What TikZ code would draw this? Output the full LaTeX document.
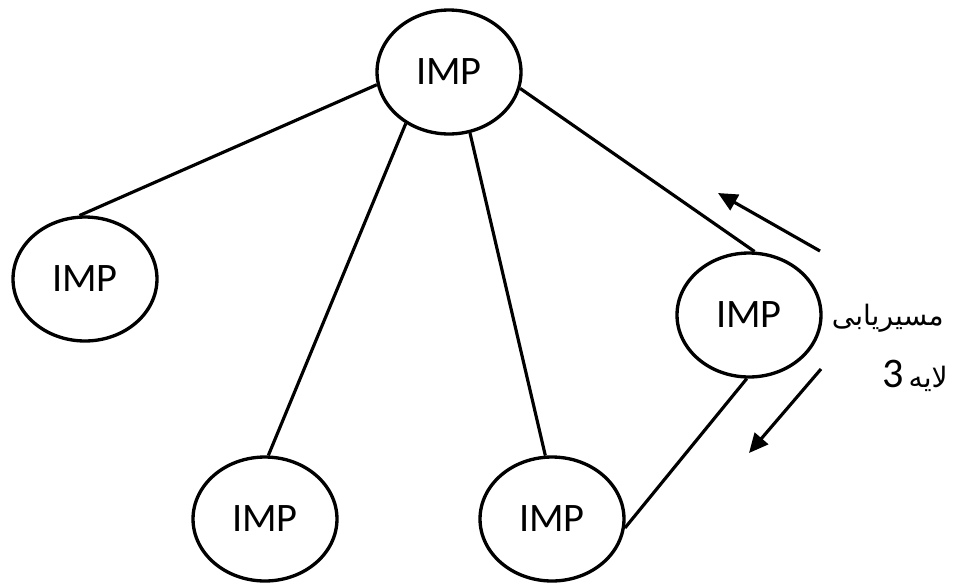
\documentclass[tikz,border=0pt]{standalone}
\usepackage{fontspec}
\setmainfont{Carlito}
\newfontfamily\arabicfont[Script=Arabic]{DejaVu Sans}
\TeXXeTstate=1
\usetikzlibrary{shapes.geometric,arrows.meta}
\begin{document}
\begin{tikzpicture}[x=0.02cm,y=-0.02cm,
  imp/.style={ellipse,draw,line width=1.9pt,minimum width=2.88cm,minimum height=2.48cm,inner sep=0pt,font=\fontsize{23}{27}\selectfont},
  link/.style={line width=1.8pt},
  flow/.style={line width=1.8pt,-{Triangle[length=11pt,width=10pt]}},
  lbl/.style={font=\arabicfont\fontsize{16}{20}\selectfont,inner sep=0pt}]
\useasboundingbox (0,0) rectangle (954,582);
\node[imp] (top) at (449,72) {IMP};
\node[imp] (left) at (85,279) {IMP};
\node[imp] (right) at (749,315) {IMP};
\node[imp] (bl) at (265,519) {IMP};
\node[imp] (bm) at (552,519) {IMP};
\draw[link] (top.190) -- (left.95);
\draw[link] (top.230) -- (bl.87);
\draw[link] (top.289) -- (bm.96);
\draw[link] (top.347) -- (right.85);
\draw[link] (right.268) -- (bm.353);
\coordinate (a1s) at (820,251);
\coordinate (a1e) at (718,193);
\coordinate (a2s) at (821,369);
\coordinate (a2e) at (749,453);
\draw[flow] (a1s) -- (a1e);
\draw[flow] (a2s) -- (a2e);
\node[lbl,anchor=east] (l1) at (944,318) {\beginR مسیریابی\endR};
\node[lbl,anchor=east] (l2) at (948,376) {\beginR لایه\,{\rmfamily\fontsize{24}{28}\selectfont 3}\endR};
\end{tikzpicture}
\end{document}
